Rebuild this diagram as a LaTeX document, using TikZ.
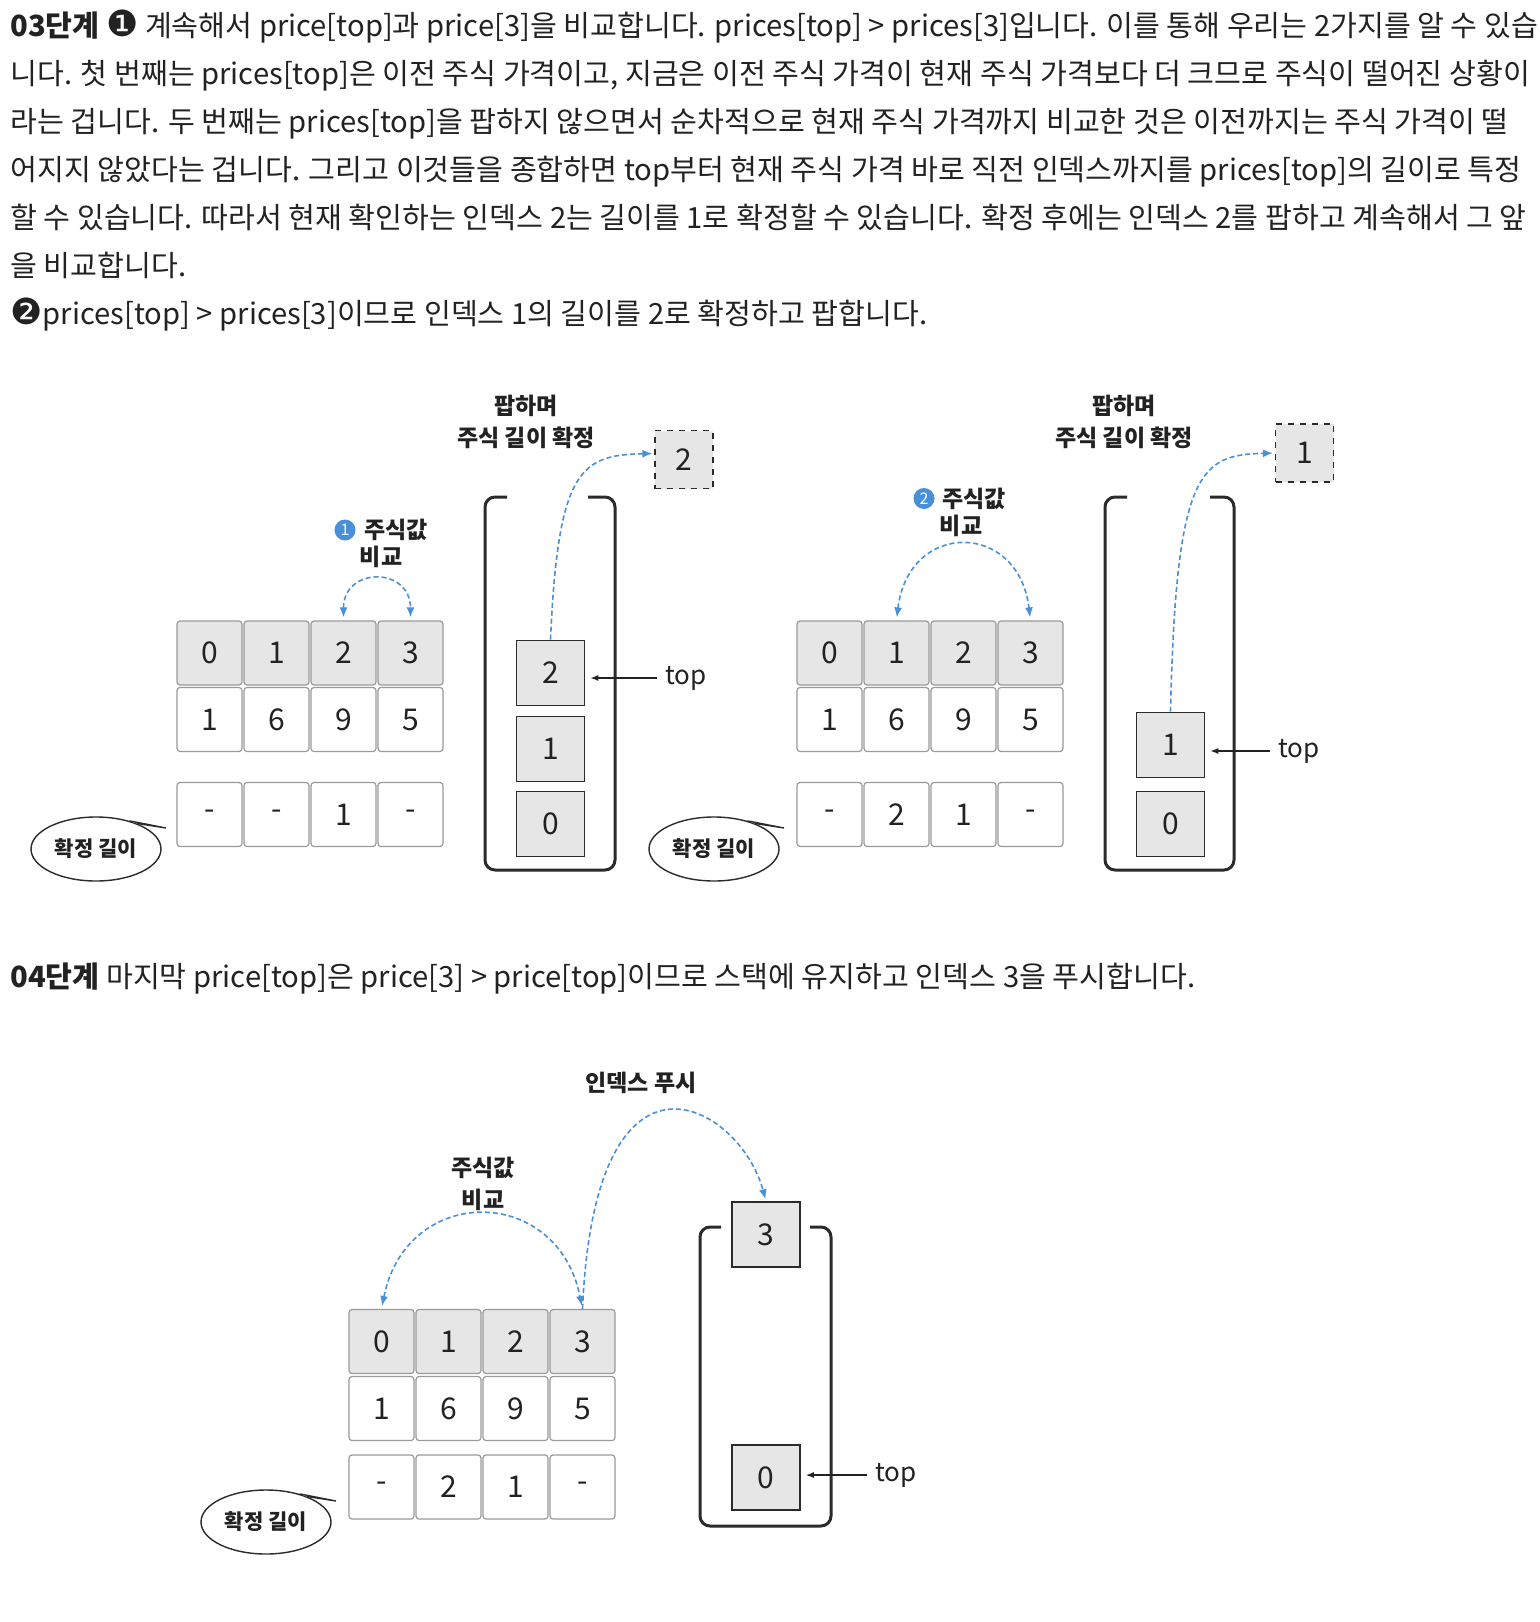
\documentclass[tikz,border=0pt]{standalone}
\usepackage{fontspec}
\setmainfont{Noto Sans CJK KR}
\newfontfamily\dvfont{DejaVu Sans}
\usetikzlibrary{arrows.meta,shapes.geometric,calc}
\definecolor{ink}{HTML}{222222}
\definecolor{cellgray}{HTML}{E6E6E6}
\definecolor{cellline}{HTML}{9A9A9A}
\definecolor{arcblue}{HTML}{4A90D9}
\definecolor{stackline}{HTML}{2B2B2B}
\newcommand\bodyfnt{\fontsize{14.6}{17}\selectfont}
\newcommand\cellfnt{\fontsize{15}{18}\selectfont}
\newcommand\lblfnt{\fontsize{11.5}{14}\selectfont\bfseries}
\newcommand\topfnt{\fontsize{13}{15}\selectfont}
\newcommand\bubfnt{\fontsize{10.5}{12}\selectfont\bfseries}
\newcommand\circnum[1]{{\dvfont\fontsize{18}{18}\selectfont #1}}
\begin{document}
\begin{tikzpicture}[x=0.5pt,y=-0.5pt,
  idx/.style={draw=cellline,fill=cellgray,rounded corners=1.5pt,minimum width=32.5pt,minimum height=32pt,inner sep=0pt,font=\cellfnt,text=ink,line width=0.6pt},
  val/.style={idx,fill=white},
  sbox/.style={draw=stackline,fill=cellgray,line width=0.8pt,minimum width=34pt,minimum height=32.5pt,inner sep=0pt,font=\cellfnt,text=ink},
  dbox/.style={draw=stackline,dashed,fill=cellgray,minimum width=29pt,minimum height=29pt,inner sep=0pt,font=\cellfnt,text=ink,line width=0.6pt},
  bluedash/.style={arcblue,line width=0.8pt,dash pattern=on 2.5pt off 1.5pt},
  cmp/.style={bluedash,{Latex[length=5pt,width=4pt]}-{Latex[length=5pt,width=4pt]},shorten <=1.5pt,shorten >=1.5pt},
  pop/.style={bluedash,-{Latex[length=5pt,width=4pt]},shorten >=1pt},
  toparrow/.style={-{Latex[length=4pt,width=3pt]},line width=0.7pt,draw=ink,shorten >=2.5pt,shorten <=4pt},
  lbl/.style={font=\lblfnt,align=center,text=ink,inner sep=0pt},
  toplbl/.style={font=\topfnt,text=ink,anchor=west,inner sep=0pt},
  bubble/.style={ellipse,draw=stackline,line width=0.7pt,minimum width=65pt,minimum height=32pt,font=\bubfnt,text=ink,inner sep=0pt,fill=white},
  badge/.style={circle,fill=arcblue,text=white,minimum size=10.5pt,inner sep=0pt,font=\fontsize{8}{9}\selectfont},
  bodytext/.style={anchor=base west,inner sep=0pt,font=\bodyfnt,text=ink},
  stackwall/.style={draw=stackline,line width=1.5pt,rounded corners=5pt}
]
\fill[white] (0,0) rectangle (1540,1622);
\useasboundingbox (0,0) rectangle (1540,1622);

% ---------- body text ----------
\node[bodytext] (t1) at (10,36) {\textbf{03단계} \circnum{❶} 계속해서 price[top]과 price[3]을 비교합니다. prices[top] > prices[3]입니다. 이를 통해 우리는 2가지를 알 수 있습};
\node[bodytext] (t2) at (10,84) {니다. 첫 번째는 prices[top]은 이전 주식 가격이고, 지금은 이전 주식 가격이 현재 주식 가격보다 더 크므로 주식이 떨어진 상황이};
\node[bodytext] (t3) at (10,132) {라는 겁니다. 두 번째는 prices[top]을 팝하지 않으면서 순차적으로 현재 주식 가격까지 비교한 것은 이전까지는 주식 가격이 떨};
\node[bodytext] (t4) at (10,180) {어지지 않았다는 겁니다. 그리고 이것들을 종합하면 top부터 현재 주식 가격 바로 직전 인덱스까지를 prices[top]의 길이로 특정};
\node[bodytext] (t5) at (10,228) {할 수 있습니다. 따라서 현재 확인하는 인덱스 2는 길이를 1로 확정할 수 있습니다. 확정 후에는 인덱스 2를 팝하고 계속해서 그 앞};
\node[bodytext] (t6) at (10,276) {을 비교합니다.};
\node[bodytext] (t7) at (10,324) {\circnum{❷}prices[top] > prices[3]이므로 인덱스 1의 길이를 2로 확정하고 팝합니다.};
\node[bodytext] (t8) at (10,987) {\textbf{04단계} 마지막 price[top]은 price[3] > price[top]이므로 스택에 유지하고 인덱스 3을 푸시합니다.};

% ---------- diagram 1 ----------
\foreach \i/\v/\l in {0/1/-,1/6/-,2/9/1,3/5/-}{
  \node[idx] (a1-i\i) at ({209.5+67*\i},653) {\i};
  \node[val] (a1-v\i) at ({209.5+67*\i},719.5) {\v};
  \node[val] (a1-l\i) at ({209.5+67*\i},814.5) {\l};
}
\node[bubble] (b1) at (96,849) {확정 길이};
\filldraw[draw=stackline,fill=white,line width=0.7pt] (b1.40) -- (166,828) -- (b1.32);
\node[badge] (c1) at (345,530) {1};
\node[lbl] (l1a) at (396,530) {주식값};
\node[lbl] (l1b) at (381,557) {비교};
\draw[cmp] (a1-i2.north) .. controls +(0,-54) and +(0,-54) .. (a1-i3.north);
\draw[stackwall] (507,497) -- (485,497) -- (485,870) -- (615,870) -- (615,497) -- (588,497);
\node[sbox] (s1-2) at (550.5,673) {2};
\node[sbox] (s1-1) at (550.5,749) {1};
\node[sbox] (s1-0) at (550.5,824) {0};
\node[toplbl] (top1) at (665,678) {top};
\draw[toparrow] (top1.west) -- (top1.west -| s1-2.east);
\node[dbox] (d1) at (684,459.5) {2};
\node[lbl] (p1) at (526,422) {팝하며\\[2pt]주식 길이 확정};
\draw[pop] (s1-2.north) .. controls (558,470) and (580,455) .. ([yshift=3pt]d1.west);

% ---------- diagram 2 ----------
\foreach \i/\v/\l in {0/1/-,1/6/2,2/9/1,3/5/-}{
  \node[idx] (a2-i\i) at ({829.5+67*\i},653) {\i};
  \node[val] (a2-v\i) at ({829.5+67*\i},719.5) {\v};
  \node[val] (a2-l\i) at ({829.5+67*\i},814.5) {\l};
}
\node[bubble] (b2) at (714,849) {확정 길이};
\filldraw[draw=stackline,fill=white,line width=0.7pt] (b2.40) -- (784,828) -- (b2.32);
\node[badge] (c2) at (924,498.5) {2};
\node[lbl] (l2a) at (974,498.5) {주식값};
\node[lbl] (l2b) at (961,526) {비교};
\draw[cmp] (a2-i1.north) .. controls +(12,-100) and +(-12,-100) .. (a2-i3.north);
\draw[stackwall] (1127,497) -- (1105,497) -- (1105,870) -- (1234,870) -- (1234,497) -- (1210,497);
\node[sbox] (s2-1) at (1170.5,745) {1};
\node[sbox] (s2-0) at (1170.5,824) {0};
\node[toplbl] (top2) at (1278,751) {top};
\draw[toparrow] (top2.west) -- (top2.west -| s2-1.east);
\node[dbox] (d2) at (1304.5,453) {1};
\node[lbl] (p2) at (1124,422) {팝하며\\[2pt]주식 길이 확정};
\draw[pop] (s2-1.north) .. controls (1176,470) and (1200,455) .. (d2.west);

% ---------- diagram 3 ----------
\foreach \i/\v/\l in {0/1/-,1/6/2,2/9/1,3/5/-}{
  \node[idx] (a3-i\i) at ({381.5+67*\i},1341.5) {\i};
  \node[val] (a3-v\i) at ({381.5+67*\i},1408.5) {\v};
  \node[val] (a3-l\i) at ({381.5+67*\i},1487) {\l};
}
\node[bubble] (b3) at (266,1522) {확정 길이};
\filldraw[draw=stackline,fill=white,line width=0.7pt] (b3.40) -- (336,1501) -- (b3.32);
\node[lbl] (l3) at (483,1184) {주식값\\[2pt]비교};
\draw[cmp] (a3-i0.north) .. controls +(25,-125) and +(-25,-125) .. (a3-i3.north);
\draw[stackwall] (721,1227) -- (700,1227) -- (700,1526) -- (831,1526) -- (831,1227) -- (810,1227);
\node[sbox] (s3-3) at (766,1234.5) {3};
\node[sbox] (s3-0) at (766,1477.5) {0};
\node[toplbl] (top3) at (875,1475) {top};
\draw[toparrow] (top3.west) -- (top3.west -| s3-0.east);
\node[lbl] (l4) at (641,1083) {인덱스 푸시};
\draw[pop] (a3-i3.north) .. controls (595,1020) and (740,1105) .. (s3-3.north);
\end{tikzpicture}
\end{document}
